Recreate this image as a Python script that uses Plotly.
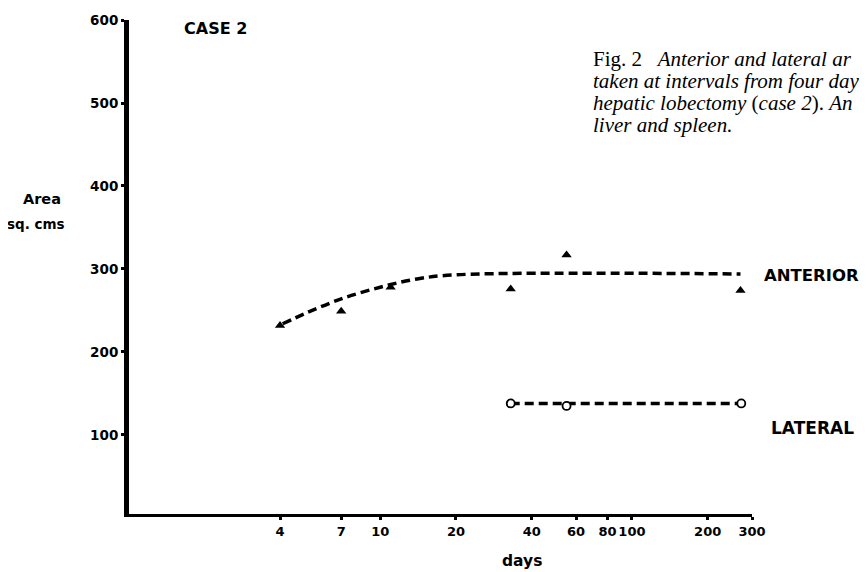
import plotly.graph_objects as go

# ---- data ----
anterior_days = [4, 7, 11, 33, 55, 270]
anterior_area = [232, 249, 278, 276, 317, 274]

anterior_fit_days = [4.1, 5, 7, 10, 14, 20, 270]
anterior_fit_area = [234, 246, 264, 278, 288, 293, 294]

lateral_days = [33, 55, 272]
lateral_area = [138, 135, 138]

lateral_fit_days = [33, 272]
lateral_fit_area = [138, 138]

x_ticks = [4, 7, 10, 20, 40, 60, 80, 100, 200, 300]
y_ticks = [100, 200, 300, 400, 500, 600]

caption_lines = [
    "Fig. 2&nbsp;&nbsp;&nbsp;<i>Anterior and lateral ar</i>",
    "<i>taken at intervals from four day</i>",
    "<i>hepatic lobectomy</i> (<i>case 2</i>). <i>An</i>",
    "<i>liver and spleen.</i>",
]

SANS = "DejaVu Sans"
SERIF = "Liberation Serif"

# plot frame (page pixels) -> paper coordinates
PL, PR, PT, PB = 129, 752, 20, 514
def xp(px):
    return (px - PL) / (PR - PL)
def yp(py):
    return (PB - py) / (PB - PT)

fig = go.Figure()

fig.add_trace(go.Scatter(
    x=anterior_fit_days, y=anterior_fit_area, mode="lines",
    line=dict(color="black", width=3.5, dash="9px,5px", shape="spline"),
    hoverinfo="skip", showlegend=False))
fig.add_trace(go.Scatter(
    x=lateral_fit_days, y=lateral_fit_area, mode="lines",
    line=dict(color="black", width=3.5, dash="9px,5px"),
    hoverinfo="skip", showlegend=False))
fig.add_trace(go.Scatter(
    x=anterior_days, y=anterior_area, mode="markers",
    marker=dict(symbol="triangle-up", size=9, color="black"),
    showlegend=False, name="Anterior"))
fig.add_trace(go.Scatter(
    x=lateral_days, y=lateral_area, mode="markers",
    marker=dict(symbol="circle", size=8, color="white",
                line=dict(color="black", width=1.8)),
    showlegend=False, name="Lateral"))

fig.update_xaxes(
    type="log", range=[0.0021, 2.4771], tickvals=x_ticks,
    ticktext=[str(v) for v in x_ticks], tickangle=0, automargin=False,
    showline=True, linecolor="black", linewidth=3,
    ticks="outside", ticklen=3, tickwidth=3, tickcolor="black",
    showgrid=False, zeroline=False,
    tickfont=dict(family=SANS, size=13, color="black", weight="bold"))
fig.update_yaxes(
    range=[4.8, 600], tickvals=y_ticks, automargin=False,
    showline=True, linecolor="black", linewidth=5,
    ticks="outside", ticklen=3, tickwidth=3, tickcolor="black",
    showgrid=False, zeroline=False,
    tickfont=dict(family=SANS, size=13.5, color="black", weight="bold"))

ann = []
def txt(text, px, py, xanchor="left", size=13, family=SANS, bold=True):
    ann.append(dict(text=text, x=xp(px), y=yp(py), xref="paper", yref="paper",
                    xanchor=xanchor, yanchor="middle", showarrow=False, align="left",
                    font=dict(family=family, size=size, color="black",
                              weight="bold" if bold else "normal")))

txt("CASE 2", 182, 28, size=16)
txt("Area", 42, 199, xanchor="center", size=14.5)
txt("sq. cms", 36, 224, xanchor="center", size=13.5)
txt("days", 522, 561, xanchor="center", size=15.5)
txt("ANTERIOR", 762, 275, size=16.5)
txt("LATERAL", 769, 428, size=17)

for i, line in enumerate(caption_lines):
    txt(line, 591, 59 + 22 * i, size=21, family=SERIF, bold=False)

fig.update_layout(
    width=860, height=564,
    margin=dict(l=PL - 8, r=860 - (PR - 8), t=PT - 8, b=564 - (PB - 8)),
    paper_bgcolor="white", plot_bgcolor="white",
    annotations=ann, showlegend=False)

fig.write_html("out.html")
